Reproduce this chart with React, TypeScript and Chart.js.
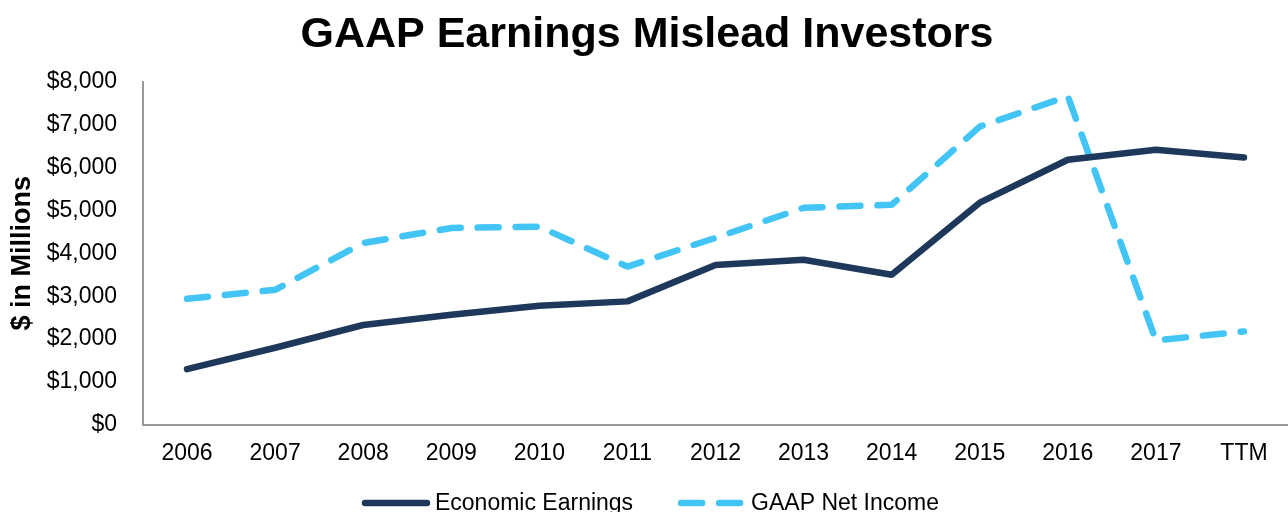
import React, { useEffect, useRef } from "react";
import { Chart, registerables } from "chart.js";

Chart.register(...registerables);

const categories = ["2006", "2007", "2008", "2009", "2010", "2011", "2012", "2013", "2014", "2015", "2016", "2017", "TTM"];
const economicEarnings = [1300, 1800, 2330, 2570, 2780, 2880, 3730, 3850, 3500, 5180, 6180, 6410, 6230];
const gaapNetIncome = [2940, 3150, 4240, 4590, 4620, 3690, 4360, 5060, 5130, 6950, 7660, 1970, 2180];
const yTickValues = [0, 1000, 2000, 3000, 4000, 5000, 6000, 7000, 8000];

const NAVY = "#1E385C";
const SKY = "#42C5F5";
const FONT = "'Liberation Sans', Arial, sans-serif";

const bottomLegend = {
  id: "bottomLegend",
  afterDraw(chart: any) {
    const ctx = chart.ctx as CanvasRenderingContext2D;
    const ds = chart.data.datasets;
    const lineLen = 62;
    const gapLineText = 8;
    const gapItems = 48;
    const cy = 503;
    ctx.save();
    ctx.font = `23px ${FONT}`;
    const widths = ds.map((d: any) => lineLen + gapLineText + ctx.measureText(d.label).width);
    const total = widths.reduce((a: number, b: number) => a + b, 0) + gapItems * (ds.length - 1);
    let x = 652 - total / 2;
    ds.forEach((d: any, i: number) => {
      ctx.beginPath();
      ctx.strokeStyle = d.borderColor;
      ctx.lineWidth = d.borderWidth;
      ctx.lineCap = "round";
      ctx.setLineDash(d.borderDash || []);
      ctx.moveTo(x, cy);
      ctx.lineTo(x + lineLen, cy);
      ctx.stroke();
      ctx.setLineDash([]);
      ctx.fillStyle = "#000";
      ctx.textBaseline = "middle";
      ctx.textAlign = "left";
      ctx.fillText(d.label, x + lineLen + gapLineText, cy + 1);
      x += widths[i] + gapItems;
    });
    ctx.restore();
  },
};

export default function App() {
  const ref = useRef<HTMLCanvasElement | null>(null);
  useEffect(() => {
    if (!ref.current) return;
    const chart = new Chart(ref.current, {
      type: "line",
      data: {
        labels: categories,
        datasets: [
          {
            label: "Economic Earnings",
            data: economicEarnings,
            borderColor: NAVY,
            backgroundColor: NAVY,
            borderWidth: 6.5,
            borderCapStyle: "round",
            borderJoinStyle: "round",
            pointRadius: 0,
            tension: 0,
          },
          {
            label: "GAAP Net Income",
            data: gaapNetIncome,
            borderColor: SKY,
            backgroundColor: SKY,
            borderWidth: 6.5,
            borderDash: [21, 17],
            borderCapStyle: "round",
            borderJoinStyle: "round",
            pointRadius: 0,
            tension: 0,
          },
        ],
      },
      plugins: [bottomLegend],
      options: {
        animation: false,
        responsive: false,
        maintainAspectRatio: false,
        layout: { padding: { left: 6, right: 0, top: 0, bottom: 45 } },
        plugins: {
          title: {
            display: true,
            text: "GAAP Earnings Mislead Investors",
            color: "#000",
            font: { family: FONT, size: 43, weight: "bold" },
            padding: { top: 9, bottom: 21 },
          },
          legend: { display: false },
          tooltip: { enabled: false },
        },
        scales: {
          x: {
            offset: true,
            grid: { display: false, drawTicks: false },
            border: { display: true, color: "#9A9A9A", width: 2 },
            ticks: { color: "#000", font: { family: FONT, size: 23 }, padding: 15, maxRotation: 0, autoSkip: false },
            afterFit: (scale: any) => {
              scale.height = 42;
            },
          },
          y: {
            min: 0,
            max: 8000,
            grid: { display: false, drawTicks: false },
            border: { display: true, color: "#9A9A9A", width: 2 },
            afterBuildTicks: (scale: any) => {
              scale.ticks = yTickValues.map((v) => ({ value: v }));
            },
            afterFit: (scale: any) => {
              scale.width = 137;
            },
            ticks: {
              color: "#000",
              font: { family: FONT, size: 23 },
              padding: 26,
              callback: (v: any) => "$" + Number(v).toLocaleString("en-US"),
            },
            title: {
              display: true,
              text: "$ in Millions",
              color: "#000",
              font: { family: FONT, size: 27, weight: "bold" },
              padding: { top: 0, bottom: 8 },
            },
          },
        },
      },
    });
    return () => chart.destroy();
  }, []);
  return (
    <div style={{ position: "absolute", left: 0, top: 0, width: 1288, height: 512, overflow: "hidden", background: "#fff" }}>
      <canvas ref={ref} width={1288} height={512} style={{ display: "block" }} />
    </div>
  );
}
